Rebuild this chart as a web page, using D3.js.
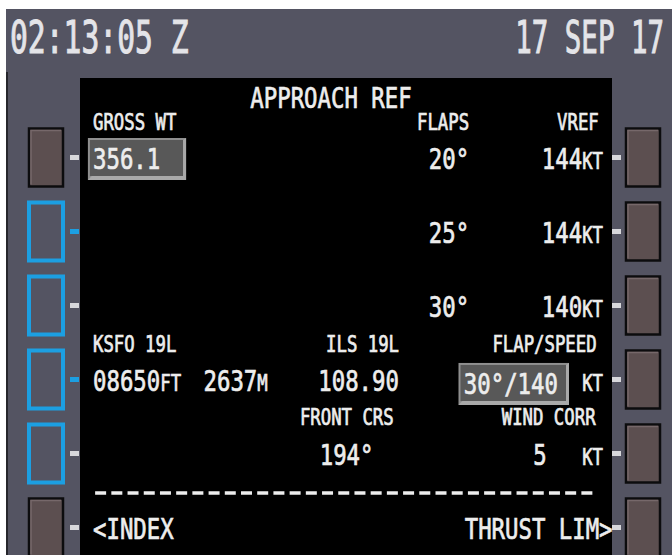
<!DOCTYPE html>
<html>
<head>
<meta charset="utf-8">
<script src="https://cdn.jsdelivr.net/npm/d3@7"></script>
<style>
  html, body { margin: 0; padding: 0; background: #fff; }
  svg { display: block; }
  text { font-family: "DejaVu Sans Mono", monospace; fill: #ededed; stroke: #ededed; stroke-width: 0.7; }
</style>
</head>
<body>
<div id="cdu"></div>
<script>
// page values
const clockText = "02:13:05 Z";
const dateText = "17 SEP 17";
const pageTitle = "APPROACH REF";
const grossWeight = "356.1";
const flapSettings = [20, 25, 30];
const vrefSpeeds = [144, 144, 140];
const runwayName = "KSFO 19L";
const runwayFt = "08650";
const runwayM = "2637";
const ilsName = "ILS 19L";
const ilsFreq = "108.90";
const frontCourse = 194;
const flapSpeed = [30, 140];
const windCorr = 5;
const leftKeys = ["plain", "blue", "blue", "blue", "blue", "plain"];
const leftTicks = ["white", "blue", "white", "blue", "white", "white"];
const rightKeys = ["plain", "plain", "plain", "plain", "plain", "plain"];

(function () {
  let W = 672, H = 555;
  let SX = 0.77;
  let sizes = { L: 29, S: 22.5 };
  let blue = "#1c9fe2";

  // CDU grid: 24 columns, lines 0..12
  let x = d3.scaleLinear().domain([0, 24]).range([93, 603]);
  let y = d3.scaleLinear().domain([0, 12]).range([95, 539]);
  let keyY = (i) => y(2 * (i + 1)) - 11.5;

  let svg = d3.select('#cdu').append('svg').attr('width', W).attr('height', H);

  // bezel
  svg.append('rect').attr('x', 6).attr('y', 9).attr('width', W - 6).attr('height', H - 9).attr('fill', '#545462');
  svg.append('rect').attr('x', 6).attr('y', 72).attr('width', 2).attr('height', H - 72).attr('fill', '#26262c');
  svg.append('rect').attr('x', 80).attr('y', 78).attr('width', 532).attr('height', H - 78).attr('fill', '#000');

  function label(g, parts, col, line, anchor, sx) {
    let t = g.append('g')
      .attr('transform', `translate(${x(col)}, ${y(line)}) scale(${sx || SX}, 1)`)
      .append('text')
      .attr('text-anchor', anchor || 'start');
    parts.forEach((p) => {
      t.append('tspan').attr('font-size', sizes[p[1]] || p[1]).text(p[0]);
    });
    return t;
  }

  // header
  let head = svg.append('g');
  head.append('g').attr('transform', 'translate(10, 53) scale(0.66, 1)')
    .append('text').attr('font-size', 45).style('fill', '#e4e4e8').style('stroke', '#e4e4e8').style('stroke-width', 1)
    .text(clockText);
  head.append('g').attr('transform', 'translate(664, 53) scale(0.61, 1)')
    .append('text').attr('font-size', 45).attr('text-anchor', 'end')
    .style('fill', '#e4e4e8').style('stroke', '#e4e4e8').style('stroke-width', 1)
    .text(dateText);

  // line select keys
  let keys = svg.append('g');
  function drawKey(cx, i, style, tickColor, side) {
    let cy = keyY(i);
    if (style === 'blue') {
      keys.append('rect').attr('x', cx - 17).attr('y', cy - 29).attr('width', 34).attr('height', 58)
        .attr('fill', '#545462').attr('stroke', blue).attr('stroke-width', 4);
    } else {
      keys.append('rect').attr('x', cx - 17).attr('y', cy - 29).attr('width', 34).attr('height', 58)
        .attr('fill', '#5c4f50').attr('stroke', '#0c0c0e').attr('stroke-width', 2.5);
      keys.append('path')
        .attr('d', `M${cx - 15},${cy + 27} V${cy - 27} H${cx + 15}`)
        .attr('fill', 'none').attr('stroke', '#76686a').attr('stroke-width', 1.5);
    }
    let tx = side === 'left' ? 70 : 612;
    keys.append('rect').attr('x', tx).attr('y', cy - 2.5).attr('width', 9).attr('height', 5)
      .attr('fill', tickColor === 'blue' ? blue : '#d8d8dc');
  }
  leftKeys.forEach((s, i) => drawKey(46, i, s, leftTicks[i], 'left'));
  rightKeys.forEach((s, i) => drawKey(643, i, s, 'white', 'right'));

  let scr = svg.append('g');

  // entry boxes
  function entryBox(c0, c1, line) {
    let bx = x(c0), bw = x(c1) - x(c0), by = y(line) - 31, bh = 42;
    scr.append('rect').attr('x', bx).attr('y', by).attr('width', bw).attr('height', bh)
      .attr('fill', '#8f8f8f');
    scr.append('rect').attr('x', bx + 2).attr('y', by + 2).attr('width', bw - 5).attr('height', bh - 6)
      .attr('fill', '#585858');
    scr.append('path')
      .attr('d', `M${bx},${by + bh} L${bx + 4},${by + bh - 4} H${bx + bw - 3} V${by + 2} L${bx + bw},${by} V${by + bh} Z`)
      .attr('fill', '#a9a9a9');
  }
  entryBox(-0.24, 4.38, 2);
  entryBox(17.2, 22.4, 8.08);

  // title and column labels
  label(scr, [[pageTitle, 'L']], 11.2, 0.35, 'middle');
  label(scr, [['GROSS WT', 'S']], 0, 0.95);
  label(scr, [['FLAPS', 'S']], 17.7, 0.95, 'end');
  label(scr, [['VREF', 'S']], 23.8, 0.95, 'end');

  label(scr, [[grossWeight, 'L']], 0, 2);

  flapSettings.forEach((f, i) => {
    label(scr, [[`${f}°`, 'L']], 17.7, 2 + 2 * i, 'end');
    label(scr, [[String(vrefSpeeds[i]), 'L'], ['KT', 'S']], 24, 2 + 2 * i, 'end');
  });

  label(scr, [[runwayName, 'S']], 0, 6.95);
  label(scr, [[ilsName, 'S']], 14.4, 6.95, 'end');
  label(scr, [['FLAP/SPEED', 'S']], 23.7, 6.95, 'end');

  label(scr, [[runwayFt, 'L'], ['FT', 'S']], 0, 8);
  label(scr, [[runwayM, 'L'], ['M', 'S']], 5.2, 8);
  label(scr, [[ilsFreq, 'L']], 10.6, 8);
  label(scr, [[`${flapSpeed[0]}°/${flapSpeed[1]}`, 'L']], 17.45, 8.08);
  label(scr, [['KT', 'S']], 24, 8, 'end');

  label(scr, [['FRONT CRS', 'S']], 14.15, 8.93, 'end');
  label(scr, [['WIND CORR', 'S']], 23.65, 8.93, 'end');
  label(scr, [[`${frontCourse}°`, 'L']], 13.2, 10, 'end');
  label(scr, [[String(windCorr), 'L']], 21.35, 10, 'end');
  label(scr, [['KT', 'S']], 24, 10, 'end');

  // separator dashes
  let dashN = 31, d0 = x(0.1), d1 = x(23.5), dash = 11;
  let gap = (d1 - d0 - dashN * dash) / (dashN - 1);
  scr.append('line')
    .attr('x1', d0).attr('x2', d1)
    .attr('y1', y(11) - 9).attr('y2', y(11) - 9)
    .attr('stroke', '#ededed').attr('stroke-width', 3.5)
    .attr('stroke-dasharray', `${dash} ${gap}`);

  label(scr, [['<INDEX', 'L']], 0, 12);
  label(scr, [['THRUST LIM>', 'L']], 24.45, 12, 'end');
})();
</script>
</body>
</html>
